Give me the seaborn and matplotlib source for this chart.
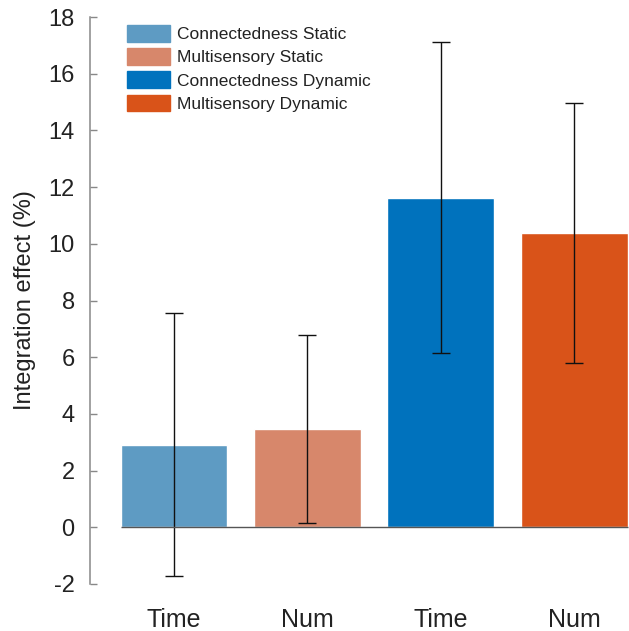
import matplotlib
matplotlib.use('Agg')
import matplotlib.pyplot as plt
import matplotlib.patches as mpatches
import seaborn as sns
import pandas as pd

# bar data (integration effect, %)
conditions = ['Connectedness Static', 'Multisensory Static',
              'Connectedness Dynamic', 'Multisensory Dynamic']
tick_labels = ['Time', 'Num', 'Time', 'Num']
means = [2.92, 3.45, 11.62, 10.39]
err_low = [-1.73, 0.14, 6.15, 5.81]
err_high = [7.57, 6.80, 17.12, 14.97]
colors = ['#5E9BC3', '#D7876B', '#0072BD', '#D95319']

sns.set_style('white')
plt.rcParams['font.family'] = ['Liberation Sans', 'DejaVu Sans']
plt.rcParams['axes.unicode_minus'] = False
plt.rcParams['text.color'] = '#222222'

df = pd.DataFrame({'condition': conditions, 'effect': means})

fig = plt.figure(figsize=(6.29, 6.31), dpi=100)
ax = fig.add_axes([0.143, 0.0745, 0.857, 0.8985])

sns.barplot(data=df, x='condition', y='effect', hue='condition',
            palette=colors, width=0.8, saturation=1, legend=False,
            errorbar=None, ax=ax)

# asymmetric error bars
xs = range(len(conditions))
lower = [m - lo for m, lo in zip(means, err_low)]
upper = [hi - m for m, hi in zip(means, err_high)]
ax.errorbar(xs, means, yerr=[lower, upper], fmt='none', ecolor='#111111',
            elinewidth=1.0, capsize=6.5, capthick=1.0)

# baseline at zero
ax.hlines(0, -0.4, len(conditions) - 0.6, color='#555555', lw=1.0, zorder=3)

ax.set_xlim(-0.63, 3.41)
ax.set_ylim(-2, 18)
ax.set_yticks(range(-2, 19, 2))
ax.set_xticks(list(xs))
ax.set_xticklabels(tick_labels, fontsize=18)
ax.tick_params(axis='x', length=0, pad=17, labelcolor='#222222')
ax.tick_params(axis='y', direction='in', length=5, width=1, color='#888888',
               labelsize=17, pad=11, left=True, labelcolor='#222222')
ax.set_xlabel('')
ax.set_ylabel('Integration effect (%)', fontsize=17, labelpad=9, color='#222222')

for side in ['top', 'right', 'bottom']:
    ax.spines[side].set_visible(False)
ax.spines['left'].set_color('#888888')
ax.spines['left'].set_linewidth(1.1)

handles = [mpatches.Patch(color=c, label=l) for c, l in zip(colors, conditions)]
ax.legend(handles=handles, loc='upper left', bbox_to_anchor=(0.056, 0.998),
          frameon=False, fontsize=12.5, handlelength=2.5, handleheight=1.1,
          handletextpad=0.35, labelspacing=0.34, borderaxespad=0)

fig.savefig('out.png', dpi=100)
